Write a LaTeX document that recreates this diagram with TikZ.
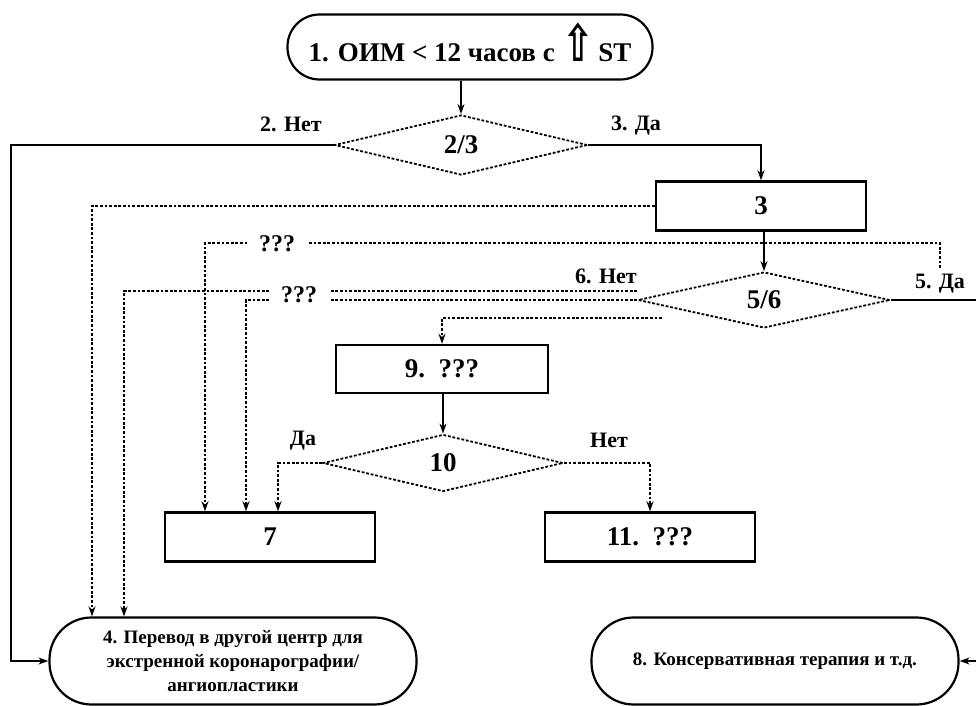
\documentclass[tikz,border=0pt]{standalone}
\usepackage{fontspec}
\setmainfont{Liberation Serif}
\newfontfamily\arrowfont{DejaVu Sans}
\usepackage{tikz}
\usetikzlibrary{arrows.meta, shapes.geometric, calc}

\newcommand{\upsign}{\smash{\arrowfont\bfseries\scalebox{1.4}[1.9]{⇧}}}

\begin{document}
\begin{tikzpicture}[
  x=0.5pt, y=-0.5pt,
  dotline/.style={dash pattern=on 1.4pt off 0.9pt, line width=0.9pt},
  term/.style={rectangle, draw, line width=1.1pt, rounded corners=16pt, inner sep=0pt,
    minimum width=182.5pt, minimum height=32.5pt, font=\bfseries\fontsize{13.5}{16}\selectfont},
  endterm/.style={term, rounded corners=21pt, minimum width=183.5pt, minimum height=43.5pt,
    align=center, font=\bfseries\fontsize{9.5}{12}\selectfont},
  proc/.style={rectangle, draw, line width=1.2pt, inner sep=0pt,
    minimum width=105pt, minimum height=24.5pt, font=\bfseries\fontsize{13.5}{16}\selectfont},
  cond/.style={diamond, draw, dotline, inner sep=0pt, font=\bfseries\fontsize{13.5}{16}\selectfont},
  elbl/.style={font=\bfseries\fontsize{11}{13}\selectfont, inner sep=1pt},
  qtext/.style={fill=white, inner xsep=6pt, inner ysep=2pt, font=\bfseries\fontsize{12}{14}\selectfont},
  arr/.style={-{Stealth[length=5pt,width=3.5pt]}, line width=1pt},
  dotarr/.style={arr, dotline},
  line/.style={line width=1pt}
]
\useasboundingbox (0,0) rectangle (976,706);

\node[term, text height=15pt, text depth=0pt] (n1) at (470,47) {1. ОИМ < 12 часов с\hspace{4pt}\upsign\hspace{2pt}ST};
\node[cond, minimum width=126.5pt, minimum height=30pt] (d23) at (461,145) {2/3};
\node[proc] (b3) at (761,206) {3};
\node[cond, minimum width=126pt, minimum height=28pt] (d56) at (764,300) {5/6};
\node[proc, minimum width=106pt, minimum height=24pt] (b9) at (442,369) {9.\ \ ???};
\node[cond, minimum width=120pt, minimum height=28.5pt] (d10) at (443,463) {10};
\node[proc] (b7) at (270,537) {7};
\node[proc] (b11) at (650,537) {11.\ \ ???};
\node[endterm] (n4) at (233,661) {4. Перевод в другой центр для\\экстренной коронарографии/\\ангиопластики};
\node[endterm] (n8) at (775,661) {8. Консервативная терапия и т.д.};

% corner points
\coordinate (lft) at (11,0);
\coordinate (rgt) at (990,0);
\coordinate (x92) at (92,0);
\coordinate (x124) at (124,0);
\coordinate (x246) at (246,0);
\coordinate (q1) at (205,243);
\coordinate (da5) at (940,268);
\coordinate (net6) at (662,318);

% solid flow
\draw[arr] (d23.north |- n1.south) -- (d23.north);
\draw[arr] (d23.west) -| (lft |- n4.west) -- (n4.west);
\draw[arr] (d23.east) -| (b3.north);
\draw[arr] (d56.north |- b3.south) -- (d56.north);
\draw[arr] (d10.north |- b9.south) -- (d10.north);
\draw[line] (d56.east) -- (d56.east -| rgt);
\draw[arr] (rgt |- n8.east) -- (n8.east);

% dotted flow
\draw[dotarr] (b3.west) -| (x92 |- n4.north);
\draw[dotarr] (da5) |- (q1) -- (q1 |- b7.north);
\draw[dotarr] ($(d56.west)+(0,-9)$) -| (x124 |- n4.north);
\draw[dotarr] (d56.west) -| (x246 |- b7.north);
\draw[dotarr] (net6) -| (b9.north);
\draw[dotarr] (d10.west) -| ($(b7.north)+(8,0)$);
\draw[dotarr] (d10.east) -| (b11.north);

\node[qtext] (q1t) at (277,244) {???};
\node[qtext] (q2t) at (299,295) {???};

% branch labels
\node[elbl] (lnet2) at (291,124) {2. Нет};
\node[elbl] (lda3) at (636,126) {3. Да};
\node[elbl] (lnet6) at (606,276) {6. Нет};
\node[elbl] (lda5) at (940,284) {5. Да};
\node[elbl] (lda10) at (303,441) {Да};
\node[elbl] (lnet10) at (609,440) {Нет};
\end{tikzpicture}
\end{document}
